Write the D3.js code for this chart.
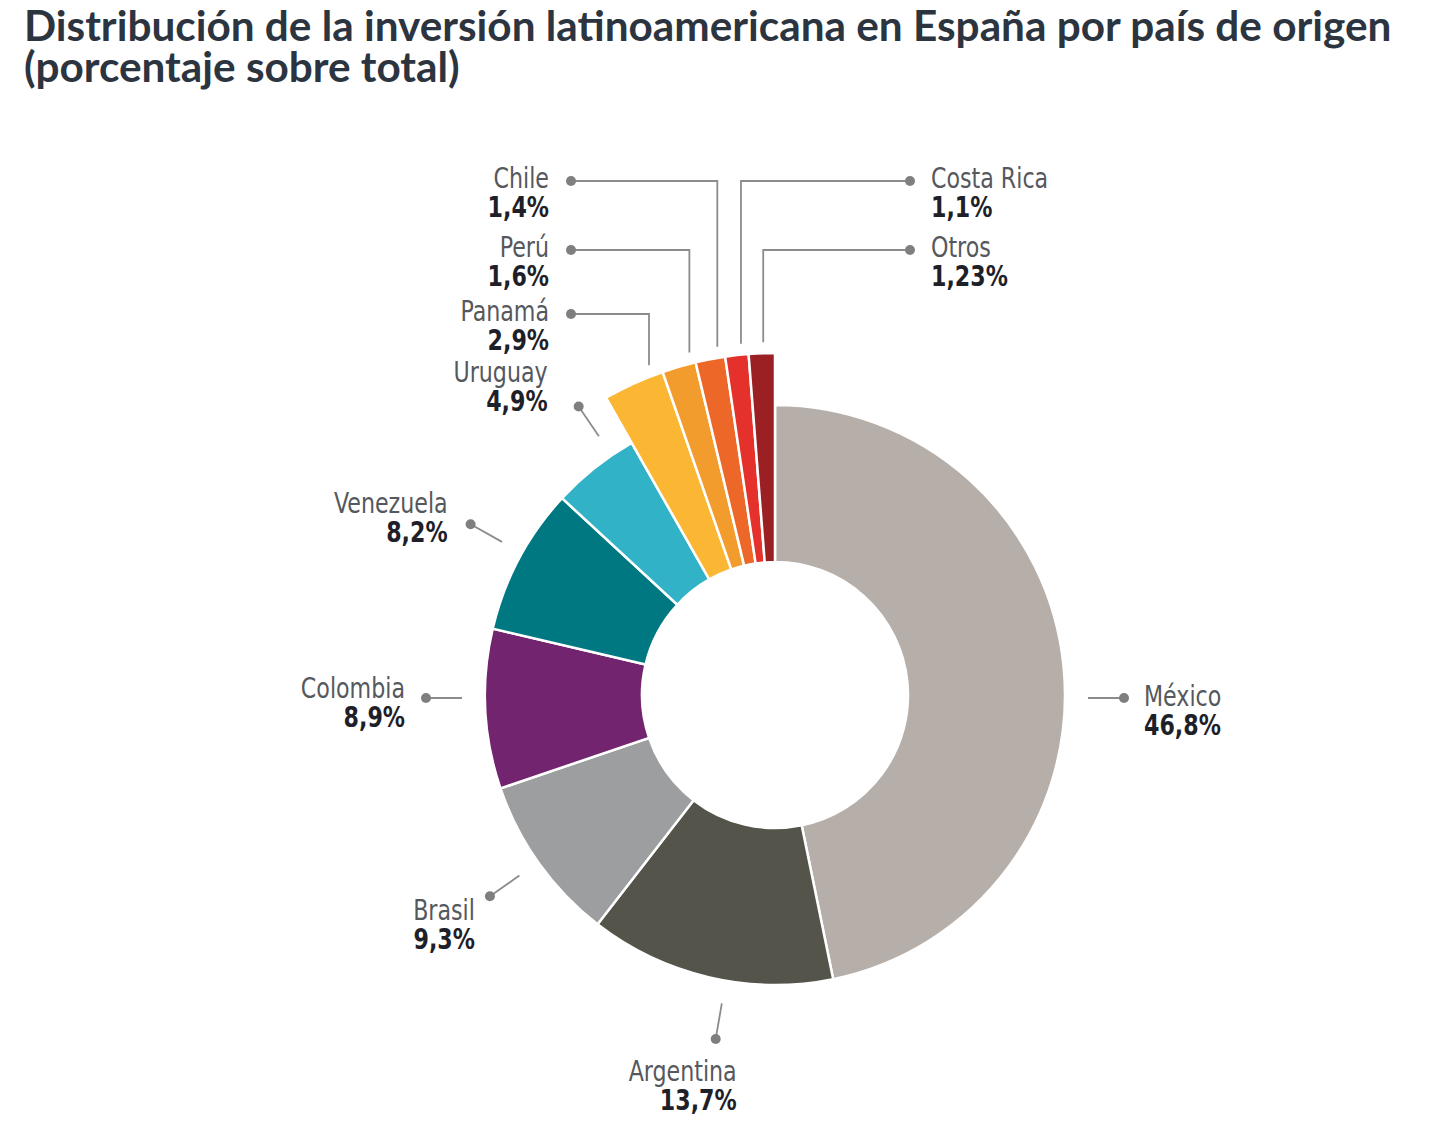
<!DOCTYPE html>
<html>
<head>
<meta charset="utf-8">
<script src="https://cdn.jsdelivr.net/npm/d3@7"></script>
<style>
  body { margin: 0; background: #fff; }
  .titulo { font-family: Lato, "Open Sans", sans-serif; font-weight: 700; fill: #2c3440; }
  .nombre { font-family: "DejaVu Sans Condensed", "Liberation Sans Narrow", sans-serif; fill: #55585c; }
  .valor { font-family: "DejaVu Sans Condensed", "Liberation Sans Narrow", sans-serif; font-weight: 700; fill: #1f1f29; }
</style>
</head>
<body>
<script>
// datos
var paises = ["México", "Argentina", "Brasil", "Colombia", "Venezuela", "Uruguay",
              "Panamá", "Perú", "Chile", "Costa Rica", "Otros"];
var porcentajes = [46.8, 13.7, 9.3, 8.9, 8.2, 4.9, 2.9, 1.6, 1.4, 1.1, 1.23];
var colores = ["#b6afa9", "#54544b", "#9d9ea0", "#73246f", "#007882", "#31b2c7",
               "#fbb634", "#f39c2e", "#ec6728", "#e4312b", "#9a2023"];
var tituloLineas = ["Distribución de la inversión latinoamericana en España por país de origen",
                    "(porcentaje sobre total)"];

var width = 1440;
var height = 1132;
var cx = 775, cy = 695;
var rInt = 133, rExt = 290, rAmp = 342;  // los sectores pequeños sobresalen

var svg = d3.select("body").append("svg")
            .attr("width", width)
            .attr("height", height);

// titulo
svg.selectAll("text.titulo")
   .data(tituloLineas)
   .enter()
   .append("text")
   .attr("class", "titulo")
   .attr("x", 24)
   .attr("y", function(d, i) { return 41 + i * 41; })
   .attr("font-size", "42.3px")
   .text(function(d) { return d; });

var datos = paises.map(function(p, i) {
    return { pais: p, valor: porcentajes[i], color: colores[i] };
});

var pie = d3.pie().sort(null).value(function(d) { return d.valor; });
var arcos = pie(datos);
var esPequeno = function(d) { return d.data.valor < 3; };

var arc = d3.arc()
            .innerRadius(rInt)
            .outerRadius(function(d) { return esPequeno(d) ? rAmp : rExt; });

var g = svg.append("g").attr("transform", "translate(" + cx + "," + cy + ")");

// draw slices
g.selectAll("path")
 .data(arcos)
 .enter()
 .append("path")
 .attr("d", arc)
 .attr("fill", function(d) { return d.data.color; })
 .attr("stroke", "#fff")
 .attr("stroke-width", 2.5);

var fmt = function(v) { return String(v).replace(".", ",") + "%"; };
var medio = function(d) { return (d.startAngle + d.endAngle) / 2; };

// etiquetas de los sectores pequeños: fila (respecto al centro) y lado
var filasSup = {
    "Chile":      { fila: -514, lado: -1 },
    "Perú":       { fila: -445, lado: -1 },
    "Panamá":     { fila: -381, lado: -1 },
    "Costa Rica": { fila: -514, lado: 1 },
    "Otros":      { fila: -445, lado: 1 }
};
// desplazamiento del texto respecto al punto, y giro de la guia (grados)
var desplaz = {
    "México":    { dx: 20,  dy: 8,   ancla: "start", giro: 0 },
    "Argentina": { dx: 21,  dy: 42,  ancla: "end",   giro: -3.3 },
    "Brasil":    { dx: -15, dy: 24,  ancla: "end",   giro: 0.3 },
    "Colombia":  { dx: -21, dy: 0,   ancla: "end",   giro: 0 },
    "Venezuela": { dx: -23, dy: -11, ancla: "end",   giro: 1.3 },
    "Uruguay":   { dx: -31, dy: -24, ancla: "end",   giro: 4.2 }
};

var colorLinea = "#8c8c8c";
var etiquetas = [];

arcos.forEach(function(d) {
    var nombre = d.data.pais;
    var a = medio(d);
    var pt, lin;
    if (filasSup[nombre]) {
        var f = filasSup[nombre];
        var vx = 305 * Math.sin(a);
        var vy = -Math.sqrt(353 * 353 - vx * vx);
        var px = f.lado < 0 ? -204 : 135;
        pt = [px, f.fila];
        lin = [[px, f.fila], [vx, f.fila], [vx, vy]];
        etiquetas.push({ d: d, x: px + (f.lado < 0 ? -22 : 21), y: f.fila + 7,
                         ancla: f.lado < 0 ? "end" : "start" });
    } else {
        var o = desplaz[nombre];
        // si el sector cruza las 3 o las 9, la guia es horizontal
        var ang = a + o.giro * Math.PI / 180;
        var horiz = false;
        if (d.startAngle < Math.PI / 2 && d.endAngle > Math.PI / 2) { ang = Math.PI / 2; horiz = true; }
        if (d.startAngle < 1.5 * Math.PI && d.endAngle > 1.5 * Math.PI) { ang = 1.5 * Math.PI; horiz = true; }
        var s = Math.sin(ang), c = -Math.cos(ang);
        var off = horiz ? 3 : 0;
        pt = [349 * s, 349 * c + off];
        lin = [[313 * s, 313 * c + off], pt];
        etiquetas.push({ d: d, x: pt[0] + o.dx, y: pt[1] + o.dy, ancla: o.ancla });
    }
    g.append("path")
     .attr("d", d3.line()(lin))
     .attr("fill", "none")
     .attr("stroke", colorLinea)
     .attr("stroke-width", 1.8);
    g.append("circle")
     .attr("cx", pt[0])
     .attr("cy", pt[1])
     .attr("r", 5)
     .attr("fill", "#7f7f7f");
});

// textos (fuente condensada, se estrecha un poco más en horizontal)
var et = g.selectAll("g.et")
          .data(etiquetas)
          .enter()
          .append("g")
          .attr("class", "et")
          .attr("transform", function(e) { return "translate(" + e.x + "," + e.y + ") scale(0.88,1)"; });
et.append("text")
  .attr("class", "nombre")
  .attr("text-anchor", function(e) { return e.ancla; })
  .attr("font-size", "28px")
  .text(function(e) { return e.d.data.pais; });
et.append("text")
  .attr("class", "valor")
  .attr("y", 29)
  .attr("text-anchor", function(e) { return e.ancla; })
  .attr("font-size", "28px")
  .text(function(e) { return fmt(e.d.data.valor); });
</script>
</body>
</html>
